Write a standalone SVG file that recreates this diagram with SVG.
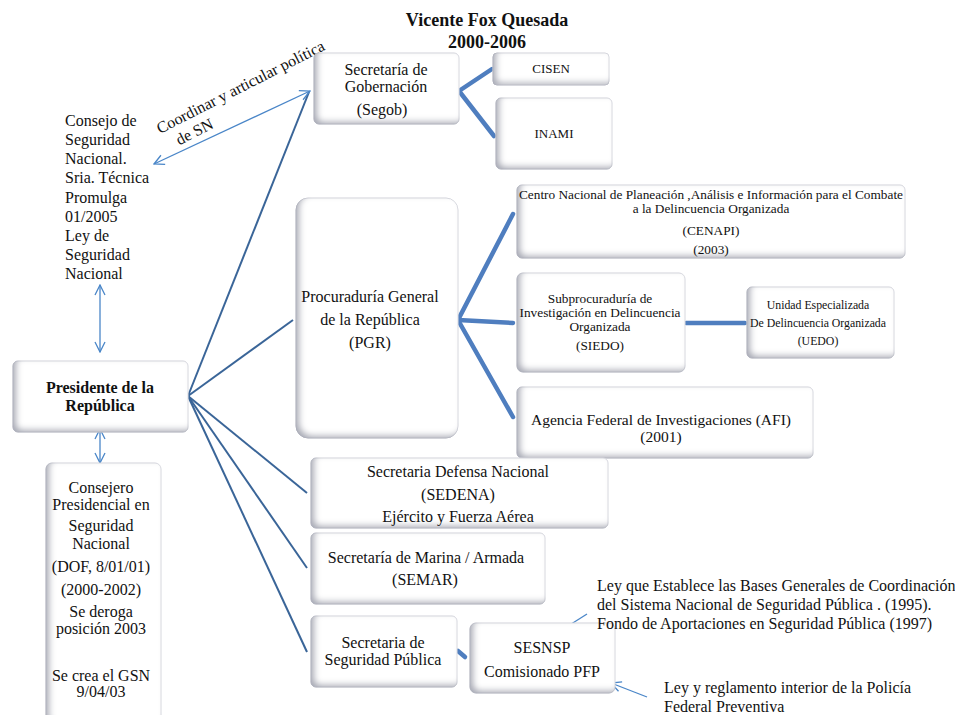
<svg xmlns="http://www.w3.org/2000/svg" width="955" height="715" viewBox="0 0 955 715">
<defs>
  <filter id="bev" x="-10%" y="-20%" width="120%" height="140%">
    <feFlood flood-color="#a8aab6" result="c"/>
    <feComposite in="c" in2="SourceAlpha" operator="out" result="inv"/>
    <feGaussianBlur in="inv" stdDeviation="3" result="b"/>
    <feOffset in="b" dx="4" dy="-3" result="o"/>
    <feComposite in="o" in2="SourceAlpha" operator="in" result="sh"/>
    <feMerge><feMergeNode in="SourceGraphic"/><feMergeNode in="sh"/></feMerge>
  </filter>
  <marker id="ah" viewBox="0 0 12 12" refX="11" refY="6" markerWidth="12" markerHeight="12" markerUnits="userSpaceOnUse" orient="auto-start-reverse">
    <path d="M1,1 L11,6 L1,11" fill="none" stroke="#4a86c8" stroke-width="1.3"/>
  </marker>
</defs>
<style>
  .bx{fill:#ffffff;stroke:#dcdde3;stroke-width:1;filter:url(#bev)}
  text{font-family:"Liberation Serif","Times New Roman",serif;fill:#111;}
  .c{text-anchor:middle}
  .f16{font-size:16px}
  .f15{font-size:15.5px}
  .f13{font-size:13px}
  .f12{font-size:13.3px}
  .f11{font-size:11.8px}
  .b{font-weight:bold}
  .pres{stroke:#3a6598;stroke-width:2;fill:none}
  .thick{stroke:#4f7ebf;stroke-width:4.5;fill:none;stroke-linecap:round}
  .thin{stroke:#4a86c8;stroke-width:1.3;fill:none;marker-end:url(#ah)}
  .dbl{marker-start:url(#ah)}
</style>
<rect width="955" height="715" fill="#ffffff"/>

<g id="title">
  <text x="487" y="26" class="c b" style="font-size:18px">Vicente Fox Quesada</text>
  <text x="487" y="48" class="c b" style="font-size:18px">2000-2006</text>
</g>

<g id="connectors">
  <line class="pres" x1="188" y1="396" x2="309" y2="92"/>
  <line class="pres" x1="188" y1="396" x2="293" y2="320"/>
  <line class="pres" x1="188" y1="396" x2="307" y2="493"/>
  <line class="pres" x1="188" y1="396" x2="307" y2="568"/>
  <line class="pres" x1="188" y1="396" x2="307" y2="652"/>
  <polyline class="thick" points="492,69 459,91 494,136"/>
  <polyline class="thick" points="513,214 458,320 513,417"/>
  <line class="thick" x1="458" y1="320" x2="513" y2="323"/>
  <line class="thick" x1="686" y1="323" x2="745" y2="323"/>
  <line class="thick" x1="458" y1="651" x2="465" y2="657"/>
  <line class="thin dbl" x1="154" y1="164" x2="310" y2="91"/>
  <line class="thin dbl" x1="100" y1="285" x2="100" y2="352"/>
  <line class="thin dbl" x1="100" y1="429" x2="100" y2="463"/>
  <line class="thin" x1="587" y1="614" x2="557" y2="633"/>
  <line class="thin" x1="647" y1="697" x2="611" y2="683"/>
</g>

<g id="lbl-coordinar">
  <text class="f16" transform="translate(160,134) rotate(-27)">Coordinar y articular política<tspan x="12" dy="19">de SN</tspan></text>
</g>

<g id="consejo-sn">
  <text class="f16" x="65" y="126">Consejo de</text>
  <text class="f16" x="65" y="145">Seguridad</text>
  <text class="f16" x="65" y="164">Nacional.</text>
  <text class="f16" x="65" y="183">Sria. Técnica</text>
  <text class="f16" x="65" y="203">Promulga</text>
  <text class="f16" x="65" y="222">01/2005</text>
  <text class="f16" x="65" y="241">Ley de</text>
  <text class="f16" x="65" y="260">Seguridad</text>
  <text class="f16" x="65" y="279">Nacional</text>
</g>

<g id="segob">
  <rect class="bx" x="314" y="53" width="145" height="71" rx="5"/>
  <text class="c f16" x="386" y="75">Secretaría de</text>
  <text class="c f16" x="386" y="92">Gobernación</text>
  <text class="c f16" x="382" y="115">(Segob)</text>
</g>

<g id="cisen">
  <rect class="bx" x="493" y="53" width="116" height="32" rx="4"/>
  <text class="c f13" x="551" y="73">CISEN</text>
</g>

<g id="inami">
  <rect class="bx" x="496" y="98" width="116" height="71" rx="5"/>
  <text class="c f13" x="554" y="138">INAMI</text>
</g>

<g id="pgr">
  <rect class="bx" x="296" y="198" width="162" height="240" rx="12"/>
  <text class="c f16" x="370" y="302">Procuraduría General</text>
  <text class="c f16" x="370" y="325">de la República</text>
  <text class="c f16" x="370" y="348">(PGR)</text>
</g>

<g id="cenapi">
  <rect class="bx" x="517" y="185" width="388" height="73" rx="5"/>
  <text class="c f12" x="711" y="199">Centro Nacional de Planeación ,Análisis e Información para el Combate</text>
  <text class="c f12" x="711" y="213">a la Delincuencia Organizada</text>
  <text class="c f12" x="711" y="235">(CENAPI)</text>
  <text class="c f12" x="711" y="254">(2003)</text>
</g>

<g id="siedo">
  <rect class="bx" x="517" y="273" width="168" height="99" rx="6"/>
  <text class="c f12" x="600" y="303">Subprocuraduría de</text>
  <text class="c f12" x="600" y="317">Investigación en Delincuencia</text>
  <text class="c f12" x="600" y="331">Organizada</text>
  <text class="c f12" x="600" y="350">(SIEDO)</text>
</g>

<g id="uedo">
  <rect class="bx" x="747" y="287" width="147" height="71" rx="5"/>
  <text class="c f11" x="818" y="309">Unidad Especializada</text>
  <text class="c f11" x="818" y="327">De Delincuencia Organizada</text>
  <text class="c f11" x="818" y="345">(UEDO)</text>
</g>

<g id="afi">
  <rect class="bx" x="517" y="387" width="296" height="71" rx="5"/>
  <text class="c f15" x="661" y="425">Agencia Federal de Investigaciones (AFI)</text>
  <text class="c f15" x="661" y="442">(2001)</text>
</g>

<g id="presidente">
  <rect class="bx" x="13" y="361" width="175" height="71" rx="5"/>
  <text class="c f16 b" x="100" y="393">Presidente de la</text>
  <text class="c f16 b" x="100" y="411">República</text>
</g>

<g id="consejero">
  <rect class="bx" x="46" y="463" width="115" height="262" rx="6"/>
  <text class="c f16" x="101" y="493">Consejero</text>
  <text class="c f16" x="101" y="510">Presidencial  en</text>
  <text class="c f16" x="101" y="531">Seguridad</text>
  <text class="c f16" x="101" y="549">Nacional</text>
  <text class="c f16" x="101" y="572">(DOF, 8/01/01)</text>
  <text class="c f16" x="101" y="595">(2000-2002)</text>
  <text class="c f16" x="101" y="617">Se deroga</text>
  <text class="c f16" x="101" y="634">posición 2003</text>
  <text class="c f16" x="101" y="681">Se crea el GSN</text>
  <text class="c f16" x="101" y="697">9/04/03</text>
</g>

<g id="sedena">
  <rect class="bx" x="311" y="458" width="297" height="70" rx="5"/>
  <text class="c f16" x="458" y="477">Secretaria Defensa Nacional</text>
  <text class="c f16" x="458" y="500">(SEDENA)</text>
  <text class="c f16" x="458" y="522">Ejército y Fuerza Aérea</text>
</g>

<g id="semar">
  <rect class="bx" x="311" y="533" width="234" height="71" rx="5"/>
  <text class="c f16" x="426" y="563">Secretaría de Marina / Armada</text>
  <text class="c f16" x="425" y="585">(SEMAR)</text>
</g>

<g id="ssp">
  <rect class="bx" x="311" y="616" width="146" height="71" rx="5"/>
  <text class="c f16" x="383" y="648">Secretaria de</text>
  <text class="c f16" x="383" y="665">Seguridad Pública</text>
</g>

<g id="sesnsp">
  <rect class="bx" x="470" y="623" width="145" height="70" rx="6"/>
  <text class="c f16" x="542" y="653">SESNSP</text>
  <text class="c f16" x="542" y="677">Comisionado PFP</text>
</g>

<g id="ley-bases">
  <text class="f16" x="597" y="591">Ley que Establece las Bases Generales de Coordinación</text>
  <text class="f16" x="597" y="610">del Sistema  Nacional de Seguridad Pública . (1995).</text>
  <text class="f16" x="597" y="629">Fondo de  Aportaciones en Seguridad Pública (1997)</text>
</g>

<g id="ley-pfp">
  <text class="f16" x="664" y="693">Ley y reglamento interior de la Policía</text>
  <text class="f16" x="664" y="712">Federal Preventiva</text>
</g>
</svg>
